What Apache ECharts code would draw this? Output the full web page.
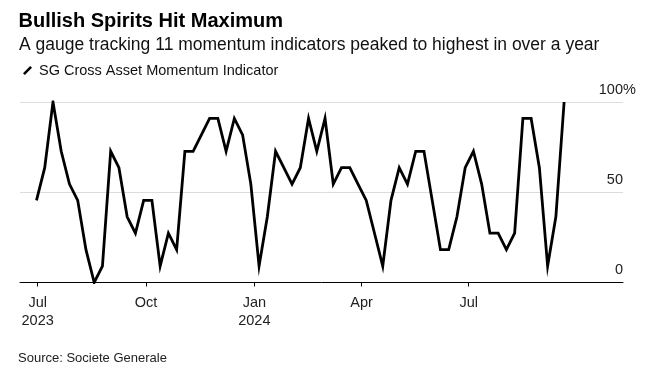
<!DOCTYPE html>
<html>
<head>
<meta charset="utf-8">
<script src="https://cdn.jsdelivr.net/npm/echarts@6/dist/echarts.min.js"></script>
<style>
  html, body { margin: 0; padding: 0; background: #fff; }
  #chart { width: 647px; height: 370px; }
</style>
</head>
<body>
<div id="chart"></div>
<script>
// ---- Data ----
var titleText = 'Bullish Spirits Hit Maximum';
var subtitleText = 'A gauge tracking 11 momentum indicators peaked to highest in over a year';
var seriesName = 'SG Cross Asset Momentum Indicator';
var sourceText = 'Source: Societe Generale';

// weekly observations starting on this date
var firstDate = '2023-06-30';
var momentumValues = [
  45.5, 63.6, 100, 72.7, 54.5, 45.5, 18.2, 0, 9.1, 72.7,
  63.6, 36.4, 27.3, 45.5, 45.5, 9.1, 27.3, 18.2, 72.7, 72.7,
  81.8, 90.9, 90.9, 72.7, 90.9, 81.8, 54.5, 9.1, 36.4, 72.7,
  63.6, 54.5, 63.6, 90.9, 72.7, 90.9, 54.5, 63.6, 63.6, 54.5,
  45.5, 27.3, 9.1, 45.5, 63.6, 54.5, 72.7, 72.7, 45.5, 18.2,
  18.2, 36.4, 63.6, 72.7, 54.5, 27.3, 27.3, 18.2, 27.3, 90.9,
  90.9, 63.6, 9.1, 36.4, 100
];

var xTickDates = ['2023-07-01', '2023-10-01', '2024-01-01', '2024-04-01', '2024-07-01'];
var xTickLabels = ['Jul\n2023', 'Oct', 'Jan\n2024', 'Apr', 'Jul'];
var xMin = '2023-06-16';
var xMax = '2024-11-09';

var yTicks = [0, 50, 100];
var yTickLabels = ['0', '50', '100'];

// ---- Build ----
var DAY = 86400000;
var t0 = Date.parse(firstDate + 'T00:00:00Z');
var seriesData = momentumValues.map(function (v, i) {
  return [t0 + i * 7 * DAY, v];
});
var tickTs = xTickDates.map(function (d) { return Date.parse(d + 'T00:00:00Z'); });

var chart = echarts.init(document.getElementById('chart'), null, { renderer: 'canvas' });
var font = '"Liberation Sans", Arial, Helvetica, sans-serif';

chart.setOption({
  animation: false,
  backgroundColor: '#ffffff',
  textStyle: { fontFamily: font },
  title: [
    { text: titleText, left: 18.5, top: 11.3, padding: 0,
      textStyle: { fontFamily: font, fontSize: 20, fontWeight: 'bold', color: '#000', lineHeight: 20 } },
    { text: subtitleText, left: 19, top: 36.5, padding: 0,
      textStyle: { fontFamily: font, fontSize: 17.5, fontWeight: 'normal', color: '#111', lineHeight: 17.5 } },
    { text: sourceText, left: 18, top: 351.5, padding: 0,
      textStyle: { fontFamily: font, fontSize: 13, fontWeight: 'normal', color: '#222', lineHeight: 13 } }
  ],
  legend: {
    show: true,
    left: 23, top: 63, padding: 0,
    itemWidth: 9, itemHeight: 9,
    icon: 'path://M8,0 L10,2 L2,10 L0,8 Z',
    itemStyle: { color: '#000' },
    textStyle: { fontFamily: font, fontSize: 14.5, color: '#111', padding: [0, 0, 0, 2] },
    data: [seriesName]
  },
  grid: { left: 20, right: 24, top: 102, bottom: 87.5, containLabel: false },
  xAxis: {
    type: 'value',
    min: Date.parse(xMin + 'T00:00:00Z'),
    max: Date.parse(xMax + 'T00:00:00Z'),
    axisLine: { show: true, onZero: false, lineStyle: { color: '#000', width: 1 } },
    axisTick: { show: true, length: 4, customValues: tickTs, lineStyle: { color: '#000', width: 1 } },
    axisLabel: {
      show: true,
      customValues: tickTs,
      margin: 11,
      fontFamily: font,
      fontSize: 14.5,
      lineHeight: 18,
      color: '#222',
      formatter: function (val) {
        var idx = tickTs.indexOf(+val);
        return idx >= 0 ? xTickLabels[idx] : '';
      }
    },
    splitLine: { show: false }
  },
  yAxis: [
    {
      type: 'value', position: 'right', offset: 0,
      min: 0, max: 100, interval: 50,
      axisLine: { show: false }, axisTick: { show: false },
      splitLine: { show: true, lineStyle: { color: '#dcdcdc', width: 1 } },
      axisLabel: {
        show: true, inside: false, margin: 0, align: 'right', verticalAlign: 'bottom',
        padding: [0, 0, 5, 0],
        fontFamily: font, fontSize: 14.5, color: '#222',
        formatter: function (v) {
          var idx = yTicks.indexOf(v);
          return idx >= 0 ? yTickLabels[idx] : '';
        }
      }
    },
    {
      type: 'value', position: 'right', offset: 0,
      min: 0, max: 100, interval: 50,
      axisLine: { show: false }, axisTick: { show: false }, splitLine: { show: false },
      axisLabel: {
        show: true, margin: 0, align: 'left', verticalAlign: 'bottom',
        padding: [0, 0, 5, 0],
        fontFamily: font, fontSize: 14.5, color: '#222',
        formatter: function (v) { return v === 100 ? '%' : ''; }
      }
    }
  ],
  series: [
    {
      name: seriesName,
      type: 'line',
      yAxisIndex: 0,
      data: seriesData,
      symbol: 'none',
      lineStyle: { color: '#000', width: 2.8, join: 'miter' },
      itemStyle: { color: '#000' },
      z: 5
    }
  ]
});
</script>
</body>
</html>
